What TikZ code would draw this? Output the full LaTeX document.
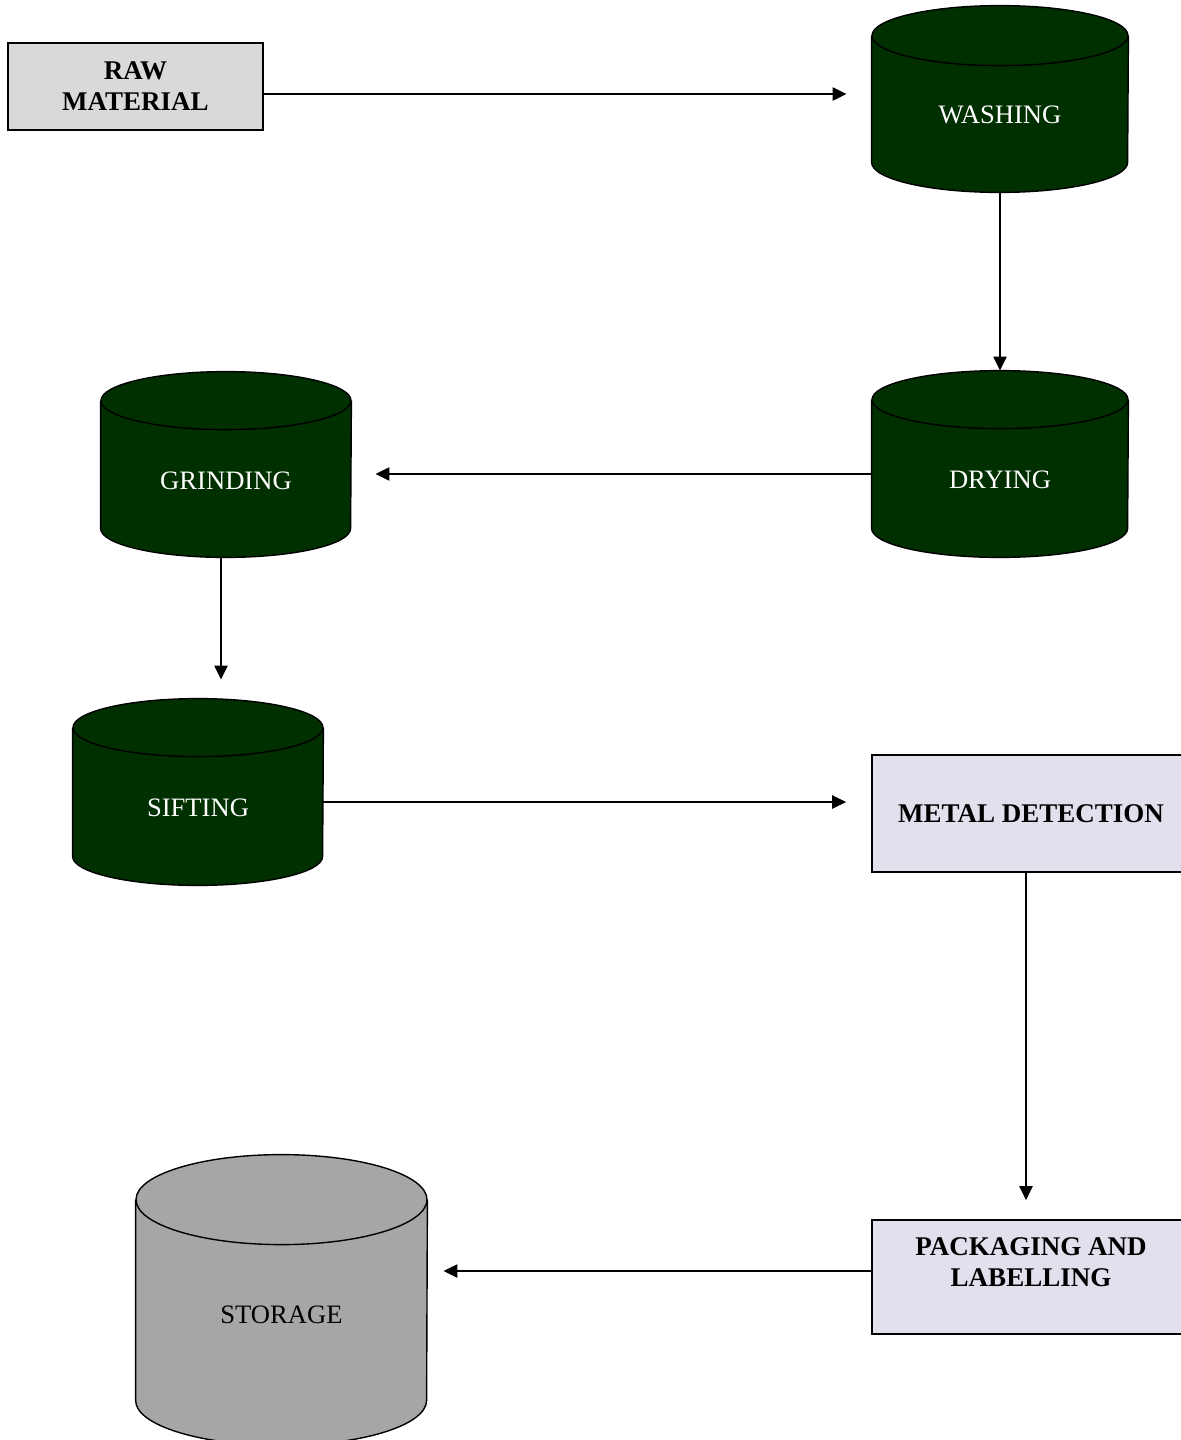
\documentclass[tikz,border=0pt]{standalone}
\usepackage{fontspec}
\setmainfont{Liberation Serif}
\usetikzlibrary{arrows.meta,calc,backgrounds}
\definecolor{cangreen}{RGB}{0,48,0}
\definecolor{rawgray}{RGB}{217,217,217}
\definecolor{lav}{RGB}{228,223,236}
\definecolor{storegray}{RGB}{166,166,166}
\newcommand\drawcan[4]{%
  \filldraw[canline, fill=#4] ($(#1.north west)+(0pt,-#3)$) -- ($(#1.south west)+(0pt,#3)$)
    arc[start angle=180,end angle=360,x radius=#2,y radius=#3] -- ($(#1.north east)+(0pt,-#3)$);
  \filldraw[canline, fill=#4] ($(#1.north)+(0pt,-#3)$) ellipse[x radius=#2,y radius=#3];
}
\begin{document}
\begin{tikzpicture}[x=0.5pt,y=-0.5pt,
  canline/.style={draw=black, line width=0.7pt, line join=round},
  can/.style={draw=none, inner sep=0pt, text=white, font=\fontsize{13.3}{15.5}\selectfont,
    text height=24.8pt, text depth=0pt},
  procbox/.style={draw=black, line width=0.8pt, inner sep=0pt, align=center,
    font=\fontsize{13.5}{15.5}\selectfont\bfseries},
  arr/.style={line width=1.1pt, -{Triangle[length=7pt,width=6.5pt]}}]
\useasboundingbox (0,0) rectangle (1181,1440);
\node[procbox, fill=rawgray, minimum width=127.5pt, minimum height=43.5pt] (raw) at (135.5,86.5) {RAW\\MATERIAL};
\node[can, minimum width=128pt, minimum height=93pt] (wash) at (1000,99) {WASHING};
\node[can, minimum width=128pt, minimum height=93pt] (dry) at (1000,464) {DRYING};
\node[can, minimum width=125pt, minimum height=92.5pt] (grind) at (226,464.5) {GRINDING};
\node[can, minimum width=125pt, minimum height=93pt] (sift) at (198,792) {SIFTING};
\node[procbox, fill=lav, minimum width=159pt, minimum height=58.5pt] (metal) at (1031,813.5) {METAL DETECTION};
\node[procbox, fill=lav, minimum width=159pt, minimum height=57pt, text depth=15pt] (pack) at (1031,1277) {PACKAGING AND\\LABELLING};
\node[can, text=black, minimum width=145.5pt, minimum height=145pt, text height=23.8pt] (store) at (281.5,1300) {STORAGE};
\begin{scope}[on background layer]
  \drawcan{wash}{64pt}{15pt}{cangreen}
  \drawcan{dry}{64pt}{14.5pt}{cangreen}
  \drawcan{grind}{62.5pt}{14.5pt}{cangreen}
  \drawcan{sift}{62.5pt}{14.5pt}{cangreen}
  \drawcan{store}{72.75pt}{22.5pt}{storegray}
\end{scope}
\draw[arr, shorten >=12.5pt] (raw.east |- 0,94) -- (wash.west |- 0,94);
\draw[arr] (wash.south) -- (dry.north);
\draw[arr, shorten >=12pt] (dry.west |- 0,474) -- (grind.east |- 0,474);
\draw[arr, shorten >=9.5pt] (221,0 |- grind.south) -- (221,0 |- sift.north);
\draw[arr, shorten >=12.5pt] (sift.east |- 0,802) -- (metal.west |- 0,802);
\draw[arr, shorten >=9.5pt] (1026,0 |- metal.south) -- (1026,0 |- pack.north);
\draw[arr, shorten >=8pt] (pack.west |- 0,1271) -- (store.east |- 0,1271);
\end{tikzpicture}
\end{document}
